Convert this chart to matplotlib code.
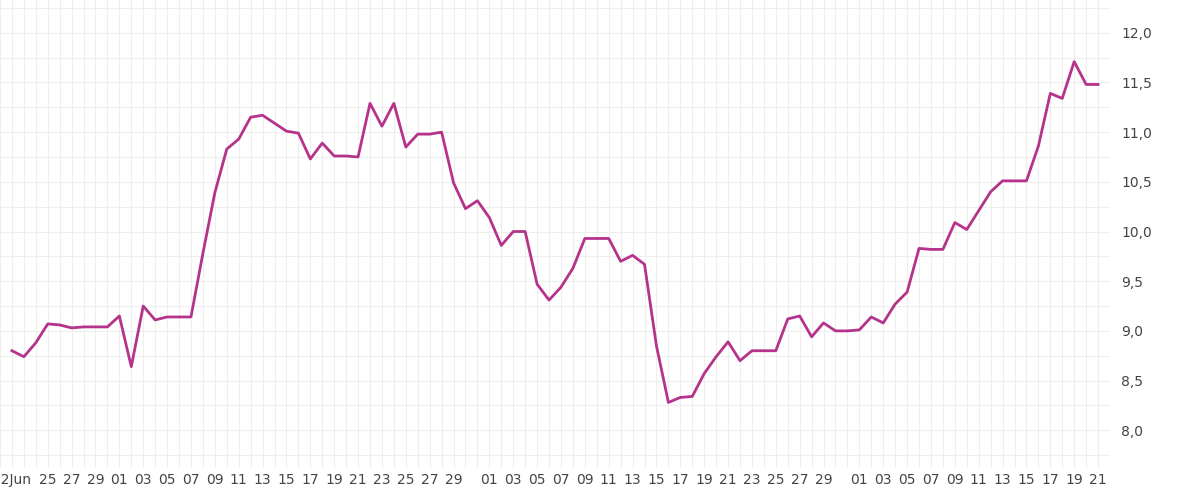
import matplotlib
matplotlib.use("Agg")
import matplotlib.pyplot as plt
import matplotlib.dates as mdates
import numpy as np
import datetime as dt

start = dt.date(2023, 6, 22)
values = [8.80, 8.74, 8.88, 9.07, 9.06, 9.03, 9.04, 9.04, 9.04, 9.15,
          8.64, 9.25, 9.11, 9.14, 9.14, 9.14, 9.78, 10.39, 10.83, 10.93,
          11.15, 11.17, 11.09, 11.01, 10.99, 10.73, 10.89, 10.76, 10.76, 10.75,
          11.29, 11.06, 11.29, 10.85, 10.98, 10.98, 11.00, 10.49, 10.23, 10.31,
          10.14, 9.86, 10.00, 10.00, 9.47, 9.31, 9.44, 9.63, 9.93, 9.93,
          9.93, 9.70, 9.76, 9.67, 8.85, 8.28, 8.33, 8.34, 8.57, 8.74,
          8.89, 8.70, 8.80, 8.80, 8.80, 9.12, 9.15, 8.94, 9.08, 9.00,
          9.00, 9.01, 9.14, 9.08, 9.27, 9.39, 9.83, 9.82, 9.82, 10.09,
          10.02, 10.21, 10.40, 10.51, 10.51, 10.51, 10.86, 11.39, 11.34, 11.71,
          11.48, 11.48]
dates = [start + dt.timedelta(days=i) for i in range(len(values))]

fig = plt.figure(figsize=(12, 5), dpi=100)
ax = fig.add_axes([0.0, 0.064, 0.925, 0.936])
ax.plot(dates, values, color="#b5338a", lw=2)
ax.set_ylim(7.62, 12.33)
ax.set_xlim(start - dt.timedelta(days=1.7), dates[-1] + dt.timedelta(days=1.5))

ax.yaxis.tick_right()
yt = [8.0, 8.5, 9.0, 9.5, 10.0, 10.5, 11.0, 11.5, 12.0]
ax.set_yticks(yt)
ax.set_yticklabels([f"{v:.1f}".replace(".", ",") for v in yt], fontsize=10, color="#444")
ax.set_yticks(np.arange(7.75, 12.3, 0.25), minor=True)

ticks, labels = [], []
for d in dates:
    if d == start:
        ticks.append(d); labels.append("22Jun")
    elif d.month == 6 and d.day < 25:
        continue
    elif d.day % 2 == 1 and d.day != 31:
        ticks.append(d); labels.append(f"{d.day:02d}")
ax.set_xticks(ticks)
ax.set_xticklabels(labels, fontsize=10, color="#444")
ax.xaxis.set_minor_locator(mdates.DayLocator())

ax.grid(True, which="both", color="#eeeeee", lw=0.8)
ax.set_axisbelow(True)
for s in ax.spines.values():
    s.set_visible(False)
ax.tick_params(which="both", length=0)
ax.tick_params(axis="y", pad=8)
fig.savefig("out.png")
